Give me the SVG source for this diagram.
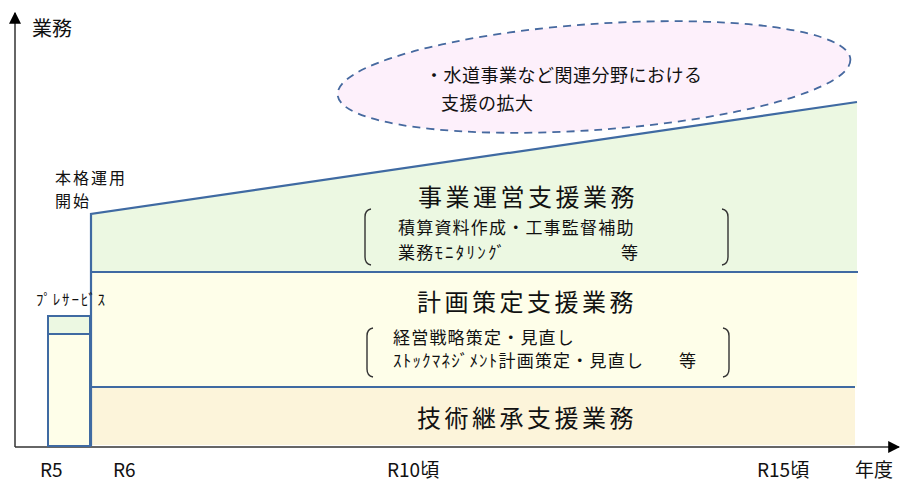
<svg xmlns="http://www.w3.org/2000/svg" width="901" height="481" viewBox="0 0 901 481">
<defs>
<style>
text{font-family:"Noto Sans CJK JP","Noto Sans",sans-serif;fill:#111}
.band{stroke:none}
.bl{stroke:#3f6aa2;stroke-width:2.2;fill:none}
.title{font-size:24px;letter-spacing:3.5px;text-anchor:middle}
.sub{font-size:17px;letter-spacing:1.2px}
.ax{font-size:19px}
.brk{stroke:#333;stroke-width:1.4;fill:none}
</style>
<marker id="ah" viewBox="0 0 10 10" refX="9" refY="5" markerWidth="12" markerHeight="12" markerUnits="userSpaceOnUse" orient="auto">
<path d="M0,0 L10,5 L0,10 z" fill="#000"/>
</marker>
</defs>
<rect width="901" height="481" fill="#fff"/>

<g id="bands">
<polygon class="band" points="91,214 857,102 857,272 91,272" fill="#ecf8e2"/>
<rect class="band" x="91" y="272" width="766" height="115" fill="#fefee9"/>
<rect class="band" x="91" y="387" width="764" height="58" fill="#fcf4da"/>
</g>

<g id="ellipse-node">
<ellipse cx="594" cy="77" rx="257" ry="53" transform="rotate(-4 594 77)" fill="#fdf0fb" stroke="#46699f" stroke-width="1.8" stroke-dasharray="8,6"/>
<text x="425" y="82" style="font-size:18px;letter-spacing:0.5px">・水道事業など関連分野における</text>
<text x="441" y="110" style="font-size:18px;letter-spacing:0.5px">支援の拡大</text>
</g>

<g id="connectors">
<line x1="15" y1="447" x2="15" y2="13" stroke="#333" stroke-width="1.5" marker-end="url(#ah)"/>
<line x1="15" y1="447" x2="899" y2="447" stroke="#333" stroke-width="1.5" marker-end="url(#ah)"/>
<polyline class="bl" points="91,446 91,214 857,102"/>
<line class="bl" x1="91" y1="272" x2="858" y2="272"/>
<line class="bl" x1="91" y1="387" x2="855" y2="387"/>
</g>

<g id="preservice">
<rect x="48" y="316" width="42" height="18" fill="#ecf8e2" stroke="#3f6aa2" stroke-width="2"/>
<rect x="48" y="334" width="42" height="112" fill="#fefee9" stroke="#3f6aa2" stroke-width="2"/>
<text x="36" y="305" style="font-size:15px;letter-spacing:1.8px">ﾌﾟﾚｻｰﾋﾞｽ</text>
</g>

<g id="start-label">
<text x="55" y="184" style="font-size:16px;letter-spacing:2px">本格運用</text>
<text x="55" y="207" style="font-size:16px;letter-spacing:2px">開始</text>
</g>

<g id="node-jigyo">
<text class="title" x="528" y="206">事業運営支援業務</text>
<path class="brk" d="M371,209 Q365,210 365,217 L365,257 Q365,264 371,265"/>
<path class="brk" d="M722,209 Q728,210 728,217 L728,257 Q728,264 722,265"/>
<text class="sub" x="398" y="234">積算資料作成・工事監督補助</text>
<text class="sub" x="398" y="259">業務<tspan style="letter-spacing:2.2px">ﾓﾆﾀﾘﾝｸﾞ</tspan></text>
<text class="sub" x="621" y="259">等</text>
</g>

<g id="node-keikaku">
<text class="title" x="527" y="311">計画策定支援業務</text>
<path class="brk" d="M373,328 Q367,329 367,336 L367,369 Q367,376 373,377"/>
<path class="brk" d="M723,328 Q729,329 729,336 L729,369 Q729,376 723,377"/>
<text class="sub" x="393" y="344">経営戦略策定・見直し</text>
<text class="sub" x="393" y="367">ｽﾄｯｸﾏﾈｼﾞﾒﾝﾄ計画策定・見直し</text>
<text class="sub" x="679" y="367">等</text>
</g>

<g id="node-gijutsu">
<text class="title" x="527" y="427">技術継承支援業務</text>
</g>

<g id="axis-labels">
<text x="32" y="36" style="font-size:20px">業務</text>
<text class="ax" x="40" y="477">R5</text>
<text class="ax" x="113" y="477">R6</text>
<text class="ax" x="387" y="477">R10頃</text>
<text class="ax" x="757" y="477">R15頃</text>
<text class="ax" x="855" y="477">年度</text>
</g>
</svg>
